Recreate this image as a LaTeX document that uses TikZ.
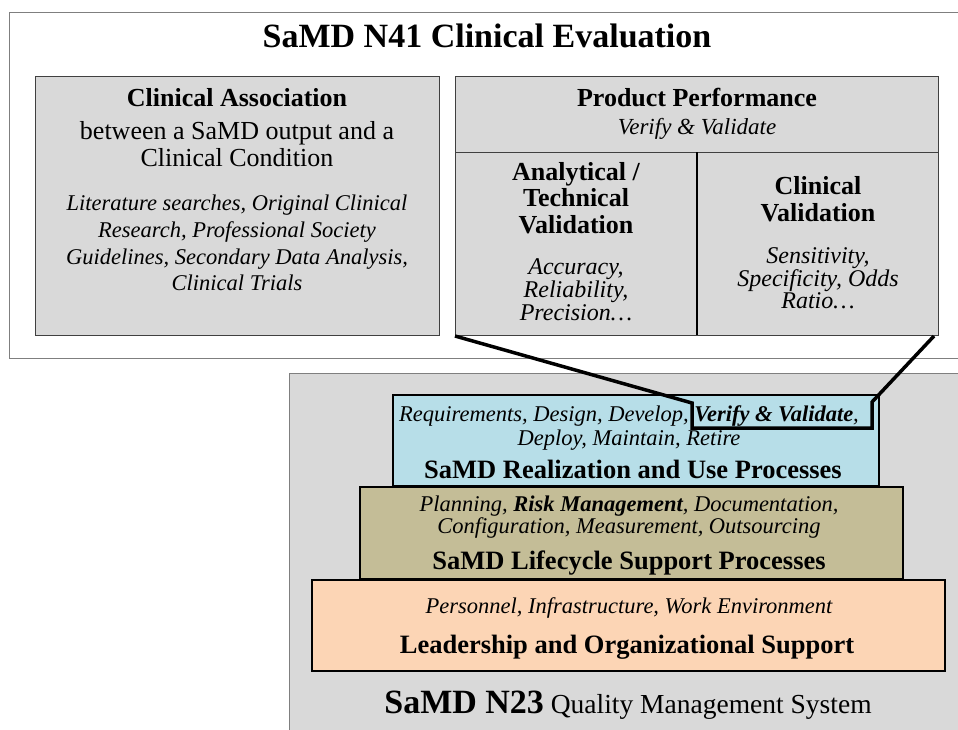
\documentclass[tikz,border=0pt]{standalone}
\usepackage{fontspec}
\setmainfont{Liberation Serif}
\newcommand{\setfs}[2]{\fontsize{#1}{#2}\selectfont}
\definecolor{panelgray}{HTML}{D9D9D9}
\definecolor{edgegray}{HTML}{404040}
\definecolor{outergray}{HTML}{7F7F7F}
\definecolor{realblue}{HTML}{B7DEE8}
\definecolor{lifekhaki}{HTML}{C4BD97}
\definecolor{leadpeach}{HTML}{FCD5B5}
\tikzset{
  txt/.style={align=center, inner sep=0pt, text=black},
  outerbox/.style={draw=outergray, line width=1.2pt, inner sep=0pt, anchor=north west},
  panel/.style={draw=edgegray, fill=panelgray, line width=1pt, inner sep=0pt, anchor=north west},
  layer/.style={draw=black, line width=1.6pt, inner sep=0pt, anchor=north west},
  callout/.style={draw=black, line width=3.5pt, line join=miter},
}
\begin{document}
\begin{tikzpicture}[x=1pt,y=-1pt]
\useasboundingbox (0,0) rectangle (958,729);
\clip (0,0) rectangle (958,729);
\fill[white] (0,0) rectangle (958,729);

% ---------- N41 top panel ----------
\node[outerbox, fill=white, minimum width=970pt, minimum height=346pt] (top) at (9,12) {};
\node[txt, font=\setfs{34}{38}\bfseries] (title) at (487,36) {SaMD N41 Clinical Evaluation};

\node[panel, minimum width=404pt, minimum height=259pt] (ca) at (35,76) {};
\node[txt, font=\setfs{26}{27}\bfseries] (cahead) at (237,98) {Clinical Association};
\node[txt, font=\setfs{26}{27}] (casub) at (237,144) {between a SaMD output and a\\Clinical Condition};
\node[txt, font=\setfs{22.5}{26.7}\itshape] (calist) at (237,243) {Literature searches, Original Clinical\\Research, Professional Society\\Guidelines, Secondary Data Analysis,\\Clinical Trials};

\node[panel, minimum width=483pt, minimum height=259pt] (pp) at (455,76) {};
\coordinate (ppdivL) at (455,152);
\coordinate (ppdivR) at (938,152);
\coordinate (ppmidT) at (697,152);
\coordinate (ppmidB) at (697,335);
\draw[draw=edgegray, line width=1pt] (ppdivL) -- (ppdivR);
\draw[draw=black, line width=1.4pt] (ppmidT) -- (ppmidB);
\node[txt, font=\setfs{26}{27}\bfseries] (pphead) at (697,97) {Product Performance};
\node[txt, font=\setfs{23}{26}\itshape] (ppsub) at (697,129) {Verify \& Validate};

\node[txt, font=\setfs{26}{26.5}\bfseries] (athead) at (576,198) {Analytical /\\Technical\\Validation};
\node[txt, font=\setfs{24}{23}\itshape] (atlist) at (576,290) {Accuracy,\\Reliability,\\Precision…};

\node[txt, font=\setfs{26}{27}\bfseries] (cvhead) at (818,199) {Clinical\\Validation};
\node[txt, font=\setfs{24}{20.5}\itshape] (cvlist) at (818,278) {Sensitivity,\\Specificity, Odds\\Ratio…};

% ---------- N23 bottom panel ----------
\node[outerbox, fill=panelgray, minimum width=690pt, minimum height=370pt] (qms) at (289,373) {};

\node[layer, fill=leadpeach, minimum width=633pt, minimum height=91pt] (lead) at (311,579) {};
\node[layer, fill=lifekhaki, minimum width=543pt, minimum height=92pt] (life) at (359,486) {};
\node[layer, fill=realblue, minimum width=486pt, minimum height=91pt] (real) at (392,394) {};

\node[txt, font=\setfs{22.5}{21.5}\itshape] (reallist) at (629,428) {Requirements, Design, Develop, \underline{\textbf{Verify \& Validate}},\\Deploy, Maintain, Retire};
\node[txt, font=\setfs{26.5}{27}\bfseries] (realhead) at (633,469) {SaMD Realization and Use Processes};

\node[txt, font=\setfs{22.5}{20.5}\itshape] (lifelist) at (629,517) {Planning, \textbf{Risk Management}, Documentation,\\Configuration, Measurement, Outsourcing};
\node[txt, font=\setfs{26.5}{27}\bfseries] (lifehead) at (629,563) {SaMD Lifecycle Support Processes};

\node[txt, font=\setfs{22.5}{26}\itshape] (leadlist) at (629,608) {Personnel, Infrastructure, Work Environment};
\node[txt, font=\setfs{26.5}{27}\bfseries] (leadhead) at (627,647) {Leadership and Organizational Support};

\node[txt, font=\setfs{27.5}{30}] (qmslabel) at (628,705) {{\setfs{34}{36}\bfseries SaMD N23} Quality Management System};

% ---------- callout ----------
\coordinate (hlTL) at (692,403);
\coordinate (hlBL) at (692,428);
\coordinate (hlBR) at (872,428);
\coordinate (hlTR) at (872,402);
\draw[callout] (pp.south west) -- (hlTL) -- (hlBL) -- (hlBR) -- (hlTR) -- ([xshift=-5pt]pp.south east);
\end{tikzpicture}
\end{document}
